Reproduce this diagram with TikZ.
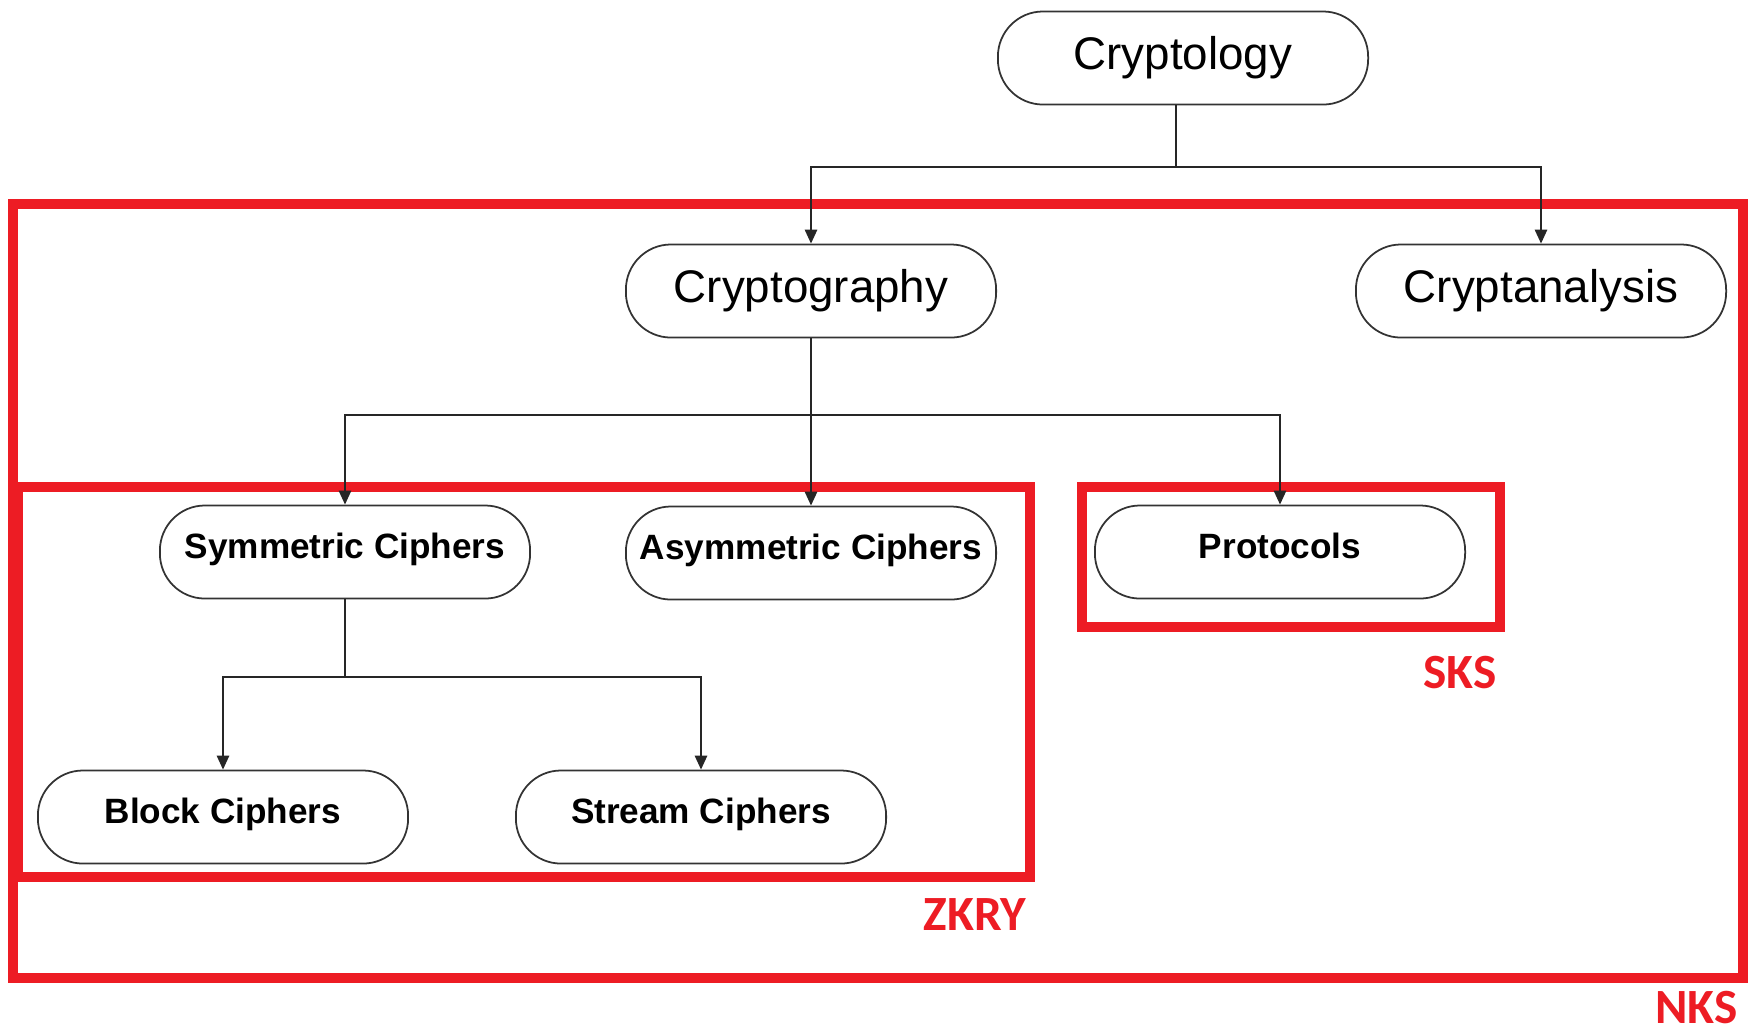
\documentclass[tikz,border=0pt]{standalone}
\usepackage{fontspec}
\setmainfont{Liberation Sans}
\newfontfamily\redfont{Carlito}
\usetikzlibrary{arrows.meta}
\definecolor{boxred}{HTML}{ED1C24}
\begin{document}
\begin{tikzpicture}[x=0.01cm,y=-0.01cm,
  term/.style={draw=black!80, line width=0.5pt, rounded corners=0.45cm, minimum width=3.7cm, minimum height=0.93cm, inner sep=0pt, fill=white},
  big/.style={term, font=\fontsize{13}{15}\selectfont},
  small/.style={term, font=\bfseries\fontsize{10}{12}\selectfont, text height=7.2pt, text depth=3.4pt},
  conn/.style={draw=black!85, line width=0.6pt},
  arr/.style={conn, -{Triangle[length=4pt,width=3.5pt]}},
  region/.style={draw=boxred, line width=2.85pt},
  tag/.style={text=boxred, font=\redfont\bfseries\fontsize{14}{16}\selectfont, inner sep=0pt}
]
\useasboundingbox (0,0) rectangle (1749,1035);

% red regions
\draw[region] (13,204) rectangle (1743,978);
\draw[region] (18,487) rectangle (1030,877);
\draw[region] (1082,487) rectangle (1500,627);

% nodes
\node[big] (cryptology) at (1183,58) {Cryptology};
\node[big] (cryptography) at (811,291) {Cryptography};
\node[big] (cryptanalysis) at (1541,291) {Cryptanalysis};
\node[small] (symm) at (345,552) {Symmetric Ciphers};
\node[small] (asym) at (811,553) {Asymmetric Ciphers};
\node[small] (proto) at (1280,552) {Protocols};
\node[small] (block) at (223,817) {Block Ciphers};
\node[small] (stream) at (701,817) {Stream Ciphers};

% junction levels
\coordinate (l1) at (0,167);
\coordinate (l2) at (0,415);
\coordinate (l3) at (0,677);
\coordinate (s1) at ([xshift=-0.07cm]cryptology.south);

\draw[conn] (s1) -- (s1 |- l1);
\draw[arr] (s1 |- l1) -| (cryptography.north);
\draw[arr] (s1 |- l1) -| (cryptanalysis.north);

\draw[conn] (cryptography.south) -- (cryptography.south |- l2);
\draw[arr] (cryptography.south |- l2) -| (symm.north);
\draw[arr] (cryptography.south |- l2) -- (asym.north);
\draw[arr] (cryptography.south |- l2) -| (proto.north);

\draw[conn] (symm.south) -- (symm.south |- l3);
\draw[arr] (symm.south |- l3) -| (block.north);
\draw[arr] (symm.south |- l3) -| (stream.north);

% tags
\node[tag] (sks) at (1460,672) {SKS};
\node[tag] (zkry) at (975,915) {ZKRY};
\node[tag, anchor=east] (nks) at (1738,1007) {NKS};
\end{tikzpicture}
\end{document}
